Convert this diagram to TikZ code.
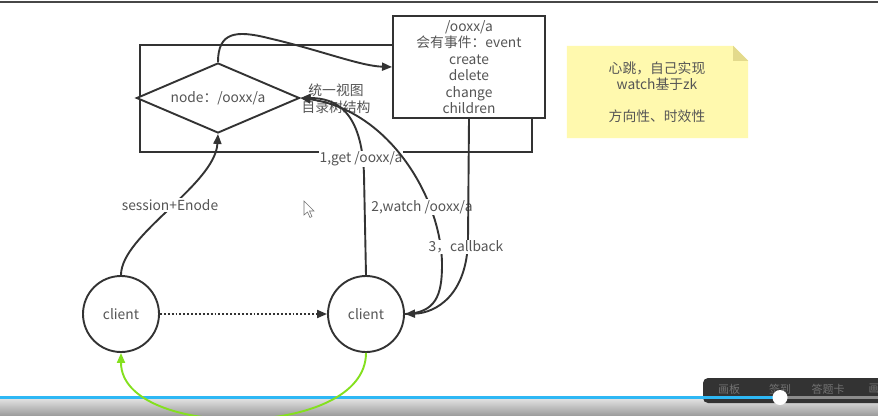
\documentclass[tikz,border=0pt]{standalone}
\usepackage{fontspec}
\setmainfont{Noto Sans CJK SC}
\usetikzlibrary{arrows.meta,shapes.geometric,calc}
\definecolor{ln}{HTML}{333333}
\definecolor{tx}{HTML}{555555}
\definecolor{notey}{HTML}{FFF9AE}
\definecolor{notefold}{HTML}{E3DA8C}
\definecolor{grn}{HTML}{84E01E}
\definecolor{prog}{HTML}{2EB8F5}
\tikzset{
  shapeln/.style={draw=ln, line width=1.9pt},
  conn/.style={draw=ln, line width=1.9pt, -{Triangle[length=10pt,width=8pt]}},
  lbl/.style={text=tx, font=\fontsize{13.8}{16}\selectfont, fill=white, inner sep=1pt},
  txt/.style={text=tx, font=\fontsize{13.8}{16.5}\selectfont, align=center},
  tooltxt/.style={text=black!55, font=\fontsize{11}{11}\selectfont},
}
\begin{document}
\begin{tikzpicture}[x=1pt,y=-1pt]
\useasboundingbox[fill=white] (0,0) rectangle (878,415);
\draw[line width=2pt, color=ln!90] (0,2) -- (878,2);

% frame
\node[shapeln, rectangle, minimum width=392pt, minimum height=107pt, inner sep=0] (frame) at (336,98.5) {};
% diamond
\node[shapeln, diamond, aspect=2.33, minimum width=163pt, minimum height=70pt, inner sep=0, fill=white, txt] (dia) at (218,98) {node：/ooxx/a};
% event box
\node[shapeln, rectangle, fill=white, minimum width=152pt, minimum height=102pt, txt] (ev) at (469,67)
  {/ooxx/a\\会有事件：event\\create\\delete\\change\\children};
% view label
\node[txt, inner sep=0, font=\fontsize{13.8}{17}\selectfont] (view) at (336,98.5) {统一视图\\目录树结构};

% note
\node[minimum width=181pt, minimum height=92pt, inner sep=0] (note) at (657.5,92) {};
\fill[notey] (note.north west) -- ($(note.north east)+(-15,0)$) -- ($(note.north east)+(0,15)$) -- (note.south east) -- (note.south west) -- cycle;
\fill[notefold] ($(note.north east)+(-15,0)$) -- ($(note.north east)+(0,15)$) -- ($(note.north east)+(-15,15)$) -- cycle;
\node[txt, inner sep=0] (notetxt) at (657,92) {心跳，自己实现\\watch基于zk\\[15pt]方向性、时效性};

% clients
\node[shapeln, circle, minimum size=76pt, inner sep=0, fill=white, txt] (c1) at (121,314) {client};
\node[shapeln, circle, minimum size=76pt, inner sep=0, fill=white, txt] (c2) at (366,314) {client};

% top arrow
\draw[conn] (dia.north) .. controls (218,32) and (236,30) .. (268,38) .. controls (320,50) and (360,66) .. (ev.west);
% session
\draw[conn] (c1.north) .. controls (121,235) and (215,185) .. (dia.south);
\node[lbl] (lsess) at (170,205) {session+Enode};
% get
\draw[conn] (c2.north) -- (364,175) .. controls (362,110) and (335,98) .. (dia.east);
\node[lbl] (lget) at (361,159) {1,get /ooxx/a};
% watch
\draw[conn] (c2.east) .. controls (436,313) and (442,295) .. (442,265) .. controls (442,200) and (390,110) .. (dia.east);
\node[lbl] (lwatch) at (422,207) {2,watch /ooxx/a};
% callback
\draw[conn] (ev.south) -- (468,240) .. controls (467,295) and (436,313) .. (c2.east);
\node[lbl] (lcb) at (466,247) {3，callback};
% dotted
\draw[ln, line width=1.9pt, dotted, -{Triangle[length=10pt,width=8pt]}] (c1.east) -- (c2.west);

% player bar
\shade[top color=black!12, bottom color=black!38] (0,399) rectangle (878,415);
\node[fill=black!80, rounded corners=5pt, minimum width=190pt, minimum height=25pt, inner sep=0] (tool) at (798,390.5) {};
\node[tooltxt] (t1) at (729,389) {画板};
\node[tooltxt] (t2) at (780,389) {签到};
\node[tooltxt] (t3) at (828,389) {答题卡};
\node[tooltxt] (t4) at (874,389) {画};
\draw[line width=3pt, black!45] (780,397.5) -- (878,397.5);
\draw[line width=3.5pt, prog] (0,397.5) -- (780,397.5);
\node[circle, fill=white, minimum size=15pt, inner sep=0] (knob) at (780,397.5) {};

% green
\draw[grn, line width=1.9pt, -{Triangle[length=10pt,width=8pt]}] (c2.south) .. controls (366,440) and (121,440) .. (c1.south);

% cursor
\draw[black!55, fill=white, line width=0.6pt] (304,201) -- (304,215) -- (307.5,212) -- (310,217.5) -- (312,216.5) -- (309.5,211) -- (314,211) -- cycle;
\end{tikzpicture}
\end{document}
